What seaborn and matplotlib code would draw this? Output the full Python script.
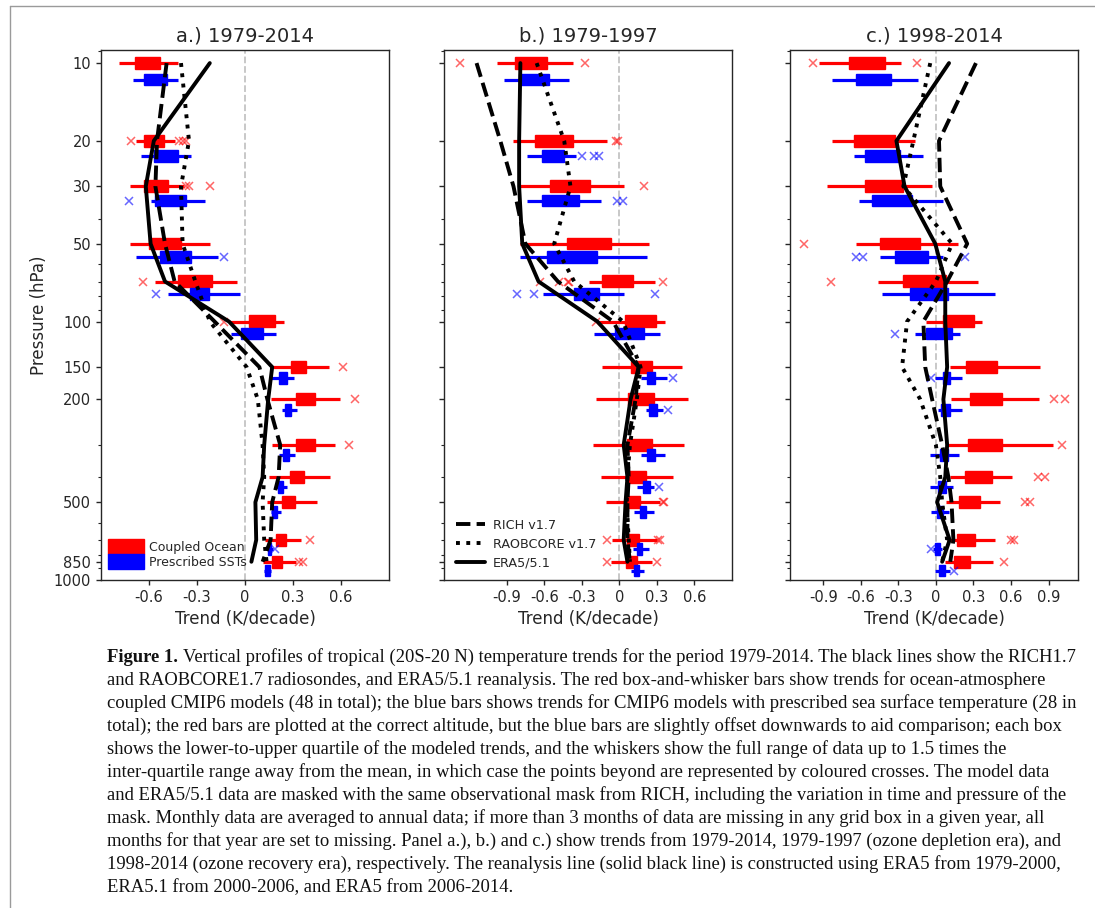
import matplotlib
matplotlib.use("Agg")
import matplotlib.pyplot as plt
import matplotlib.ticker as mticker
from matplotlib.patches import Patch
from matplotlib.lines import Line2D
import numpy as np
import seaborn as sns

# ---------------------------------------------------------------- data
LEVELS = [10, 20, 30, 50, 70, 100, 150, 200, 300, 400, 500, 700, 850]
YTICKS = [10, 20, 30, 50, 100, 150, 200, 500, 850, 1000]
YTICKLABELS = ["10", "20", "30", "50", "100", "150", "200", "500", "850", "1000"]

TITLES = ["a.) 1979-2014", "b.) 1979-1997", "c.) 1998-2014"]
XTICKS = [[-0.6, -0.3, 0, 0.3, 0.6],
          [-0.9, -0.6, -0.3, 0, 0.3, 0.6],
          [-0.9, -0.6, -0.3, 0, 0.3, 0.6, 0.9]]
XTICKLABELS = [["-0.6", "-0.3", "0", "0.3", "0.6"],
               ["-0.9", "-0.6", "-0.3", "0", "0.3", "0.6"],
               ["-0.9", "-0.6", "-0.3", "0", "0.3", "0.6", "0.9"]]
XLIMS = [(-0.9, 0.9), (-1.4, 0.9), (-1.165, 1.135)]

SERIES_NAMES = ["RICH v1.7", "RAOBCORE v1.7", "ERA5/5.1"]
BOX_NAMES = ["Coupled Ocean", "Prescribed SSTs"]

# observational profiles (K/decade) at LEVELS
A_RICH = [-0.49, -0.55, -0.56, -0.50, -0.44, -0.19, 0.09, 0.14, 0.22, 0.21, 0.17, 0.16, 0.11]
A_RAOB = [-0.40, -0.35, -0.40, -0.39, -0.31, -0.22, 0.01, 0.08, 0.11, 0.12, 0.11, 0.12, 0.135]
A_ERA5 = [-0.22, -0.57, -0.62, -0.59, -0.50, -0.10, 0.17, 0.145, 0.12, 0.11, 0.065, 0.07, 0.04]

B_RICH = [-1.14, -0.95, -0.845, -0.75, -0.49, -0.05, 0.155, 0.13, 0.065, 0.075, 0.065, 0.065, 0.085]
B_RAOB = [-0.66, -0.44, -0.39, -0.52, -0.36, 0.03, 0.17, 0.14, 0.085, 0.065, 0.06, 0.075, 0.085]
B_ERA5 = [-0.79, -0.80, -0.80, -0.775, -0.645, -0.175, 0.155, 0.09, 0.035, 0.065, 0.05, 0.035, 0.065]

C_RICH = [0.32, 0.025, 0.035, 0.25, 0.09, -0.10, -0.085, -0.03, 0.05, 0.10, 0.125, 0.14, 0.115]
C_RAOB = [-0.045, -0.18, -0.26, 0.13, 0.0, -0.23, -0.27, -0.125, 0.0, 0.035, 0.05, 0.09, 0.05]
C_ERA5 = [0.105, -0.315, -0.25, -0.005, 0.075, 0.075, 0.09, 0.06, 0.09, 0.075, 0.01, 0.11, 0.05]

# model boxes: (whisker low, lower quartile, upper quartile, whisker high) at LEVELS
A_COUPLED = [(-0.79, -0.69, -0.53, -0.42), (-0.68, -0.63, -0.505, -0.44), (-0.72, -0.63, -0.48, -0.38),
             (-0.72, -0.60, -0.40, -0.22), (-0.56, -0.42, -0.205, -0.05), (-0.10, 0.025, 0.19, 0.245),
             (0.155, 0.285, 0.38, 0.525), (0.16, 0.32, 0.435, 0.595), (0.17, 0.32, 0.435, 0.56),
             (0.15, 0.28, 0.37, 0.53), (0.135, 0.23, 0.315, 0.45), (0.125, 0.195, 0.255, 0.35),
             (0.115, 0.17, 0.23, 0.32)]
A_COUPLED_X = [[], [-0.71, -0.41, -0.39, -0.37], [-0.37, -0.35, -0.22], [], [-0.64], [-0.13],
               [0.615], [0.69], [0.65], [], [], [0.405], [0.335, 0.36]]
A_SST = [(-0.70, -0.63, -0.485, -0.42), (-0.65, -0.57, -0.42, -0.34), (-0.59, -0.56, -0.37, -0.25),
         (-0.68, -0.53, -0.335, -0.17), (-0.48, -0.345, -0.225, -0.03), (-0.09, -0.025, 0.115, 0.195),
         (0.165, 0.215, 0.265, 0.305), (0.23, 0.25, 0.285, 0.325), (0.215, 0.235, 0.275, 0.315),
         (0.19, 0.205, 0.235, 0.265), (0.16, 0.17, 0.20, 0.225), (0.135, 0.145, 0.165, 0.175),
         (0.12, 0.127, 0.155, 0.165)]
A_SST_X = [[], [], [-0.725], [-0.13], [-0.555], [], [], [], [], [], [], [0.19], []]

B_COUPLED = [(-0.98, -0.83, -0.58, -0.37), (-0.85, -0.675, -0.37, -0.10), (-0.81, -0.555, -0.235, 0.04),
             (-0.79, -0.415, -0.065, 0.24), (-0.24, -0.135, 0.11, 0.285), (-0.17, 0.045, 0.29, 0.365),
             (-0.14, 0.095, 0.26, 0.50), (-0.185, 0.07, 0.275, 0.55), (-0.21, 0.06, 0.26, 0.52),
             (-0.145, 0.07, 0.215, 0.43), (-0.11, 0.055, 0.165, 0.325), (-0.055, 0.065, 0.16, 0.30),
             (-0.07, 0.055, 0.14, 0.26)]
B_COUPLED_X = [[-1.27, -0.27], [-0.03, -0.01], [0.195], [], [-0.63, -0.48, -0.41, -0.40, 0.35], [-0.19],
               [], [], [], [], [0.345, 0.36], [-0.095, 0.31, 0.325], [-0.10, 0.30]]
B_SST = [(-0.92, -0.805, -0.565, -0.40), (-0.74, -0.62, -0.44, -0.345), (-0.74, -0.615, -0.32, -0.15),
         (-0.79, -0.575, -0.175, 0.22), (-0.61, -0.365, -0.16, 0.04), (-0.20, -0.035, 0.20, 0.325),
         (0.175, 0.22, 0.285, 0.38), (0.215, 0.235, 0.30, 0.35), (0.175, 0.22, 0.285, 0.365),
         (0.145, 0.19, 0.245, 0.28), (0.12, 0.165, 0.21, 0.28), (0.11, 0.14, 0.185, 0.235),
         (0.09, 0.115, 0.155, 0.195)]
B_SST_X = [[], [-0.30, -0.20, -0.165], [-0.02, 0.03], [], [-0.82, -0.68, 0.285], [], [0.425], [0.385],
           [], [0.315], [], [], []]

C_COUPLED = [(-0.93, -0.69, -0.41, -0.28), (-0.83, -0.65, -0.33, -0.17), (-0.87, -0.57, -0.265, -0.03),
             (-0.64, -0.45, -0.125, 0.18), (-0.46, -0.265, 0.08, 0.34), (-0.08, 0.06, 0.305, 0.37),
             (0.11, 0.24, 0.485, 0.835), (0.12, 0.275, 0.525, 0.825), (0.10, 0.26, 0.525, 0.935),
             (0.11, 0.235, 0.445, 0.605), (0.08, 0.185, 0.355, 0.51), (0.09, 0.17, 0.315, 0.47),
             (0.07, 0.145, 0.275, 0.46)]
C_COUPLED_X = [[-0.98, -0.15], [], [], [-1.05], [-0.84], [], [], [0.94, 1.03], [1.01],
               [0.815, 0.875], [0.71, 0.75], [0.60, 0.62], [0.545]]
C_SST = [(-0.83, -0.635, -0.36, -0.14), (-0.655, -0.57, -0.29, -0.10), (-0.61, -0.51, -0.19, 0.06),
         (-0.45, -0.325, -0.065, 0.055), (-0.43, -0.205, 0.095, 0.47), (-0.17, -0.075, 0.125, 0.19),
         (-0.005, 0.06, 0.115, 0.21), (0.02, 0.04, 0.11, 0.205), (-0.05, 0.035, 0.10, 0.185),
         (-0.05, 0.015, 0.08, 0.14), (-0.035, 0.005, 0.06, 0.105), (-0.02, -0.005, 0.035, 0.05),
         (-0.005, 0.025, 0.07, 0.11)]
C_SST_X = [[], [], [], [-0.635, -0.58, 0.235], [], [-0.33], [-0.04], [], [], [], [], [-0.035], [0.145]]

CAPTION_BOLD = "Figure 1."
CAPTION_LINES = [
    "Vertical profiles of tropical (20S-20 N) temperature trends for the period 1979-2014. The black lines show the RICH1.7",
    "and RAOBCORE1.7 radiosondes, and ERA5/5.1 reanalysis. The red box-and-whisker bars show trends for ocean-atmosphere",
    "coupled CMIP6 models (48 in total); the blue bars shows trends for CMIP6 models with prescribed sea surface temperature (28 in",
    "total); the red bars are plotted at the correct altitude, but the blue bars are slightly offset downwards to aid comparison; each box",
    "shows the lower-to-upper quartile of the modeled trends, and the whiskers show the full range of data up to 1.5 times the",
    "inter-quartile range away from the mean, in which case the points beyond are represented by coloured crosses. The model data",
    "and ERA5/5.1 data are masked with the same observational mask from RICH, including the variation in time and pressure of the",
    "mask. Monthly data are averaged to annual data; if more than 3 months of data are missing in any grid box in a given year, all",
    "months for that year are set to missing. Panel a.), b.) and c.) show trends from 1979-2014, 1979-1997 (ozone depletion era), and",
    "1998-2014 (ozone recovery era), respectively. The reanalysis line (solid black line) is constructed using ERA5 from 1979-2000,",
    "ERA5.1 from 2000-2006, and ERA5 from 2006-2014.",
]

PANELS = [
    (A_RICH, A_RAOB, A_ERA5, A_COUPLED, A_COUPLED_X, A_SST, A_SST_X),
    (B_RICH, B_RAOB, B_ERA5, B_COUPLED, B_COUPLED_X, B_SST, B_SST_X),
    (C_RICH, C_RAOB, C_ERA5, C_COUPLED, C_COUPLED_X, C_SST, C_SST_X),
]

# ---------------------------------------------------------------- style
sns.set_style("ticks")
plt.rcParams["font.family"] = ["DejaVu Sans"]
plt.rcParams["axes.unicode_minus"] = False
plt.rcParams["axes.edgecolor"] = "0.15"
plt.rcParams["xtick.color"] = "0.15"
plt.rcParams["ytick.color"] = "0.15"

W, H = 1095, 908
fig = plt.figure(figsize=(W / 100, H / 100), dpi=100)
fig.patch.set_facecolor("white")

AX_LEFTS = [101, 444, 790]
AX_TOP, AX_W, AX_H = 50, 288, 530
LINE_STYLES = ["--", ":", "-"]


def draw_boxes(ax, boxes, fliers, positions, color):
    stats = []
    for (lo, q1, q3, hi), fl in zip(boxes, fliers):
        stats.append(dict(whislo=lo, q1=q1, med=0.5 * (q1 + q3), q3=q3, whishi=hi, fliers=fl))
    widths = [0.105 * p for p in positions]
    ax.bxp(stats, positions=positions, widths=widths, orientation="horizontal",
           patch_artist=True, showcaps=False, manage_ticks=False,
           boxprops=dict(facecolor=color, edgecolor=color, linewidth=1),
           whiskerprops=dict(color=color, linewidth=2.3, solid_capstyle="butt"),
           medianprops=dict(color=color, linewidth=0),
           flierprops=dict(marker="x", markeredgecolor=color, markerfacecolor=color,
                           markersize=5.5, markeredgewidth=1.1, alpha=0.6, linestyle="none"),
           zorder=2)


axes = []
for i, (rich, raob, era5, cbox, cfl, sbox, sfl) in enumerate(PANELS):
    ax = fig.add_axes([AX_LEFTS[i] / W, 1 - (AX_TOP + AX_H) / H, AX_W / W, AX_H / H])
    axes.append(ax)
    ax.set_yscale("log")
    ax.axvline(0, color="#c4c4c4", linestyle="--", linewidth=1.3, zorder=1)

    blue_pos = [p * (1 + 0.16 * (p / 10.0) ** -0.15) for p in LEVELS]
    draw_boxes(ax, cbox, cfl, LEVELS, "red")
    draw_boxes(ax, sbox, sfl, blue_pos, "blue")

    for vals, ls, name in zip([rich, raob, era5], LINE_STYLES, SERIES_NAMES):
        sns.lineplot(x=vals, y=LEVELS, orient="y", sort=True, estimator=None,
                     color="black", linewidth=2.8, linestyle=ls, label=name,
                     legend=False, ax=ax, zorder=4)

    ax.set_xlim(*XLIMS[i])
    ax.set_ylim(1000, 8.9)
    ax.set_xticks(XTICKS[i], XTICKLABELS[i])
    ax.set_yticks(YTICKS, YTICKLABELS)
    ax.yaxis.set_minor_locator(mticker.LogLocator(base=10, subs=np.arange(2, 10)))
    ax.yaxis.set_minor_formatter(mticker.NullFormatter())
    ax.tick_params(axis="both", which="major", labelsize=10.5, length=3.5, width=1, direction="out")
    ax.tick_params(axis="y", which="minor", length=2, width=0.8, direction="out")
    ax.set_title(TITLES[i], fontsize=14)
    ax.set_xlabel("Trend (K/decade)", fontsize=12)
    if i == 0:
        ax.set_ylabel("Pressure (hPa)", fontsize=12)
    else:
        ax.set_ylabel("")
        ax.tick_params(axis="y", which="both", labelleft=False)
    for sp in ax.spines.values():
        sp.set_visible(True)
        sp.set_linewidth(1.0)

# legends
patch_handles = [Patch(facecolor="red", edgecolor="red"), Patch(facecolor="blue", edgecolor="blue")]
axes[0].legend(patch_handles, BOX_NAMES, loc="lower left", bbox_to_anchor=(0.024, 0.021),
               frameon=False, fontsize=9, handlelength=2.85, handleheight=1.45, labelspacing=0,
               handletextpad=0.4, borderpad=0, borderaxespad=0)

line_handles = [Line2D([], [], color="black", linewidth=2.8, linestyle=ls) for ls in LINE_STYLES]
axes[1].legend(line_handles, SERIES_NAMES, loc="lower left", bbox_to_anchor=(0.04, 0.02),
               frameon=False, fontsize=9.2, handlelength=2.3, labelspacing=0.45,
               handletextpad=0.6, borderpad=0, borderaxespad=0)

# page border
fig.add_artist(Line2D([10 / W, 10 / W], [0, 1 - 6 / H], color="#9a9a9a", linewidth=1, transform=fig.transFigure))
fig.add_artist(Line2D([10 / W, 1], [1 - 6 / H, 1 - 6 / H], color="#9a9a9a", linewidth=1, transform=fig.transFigure))

# caption
serif = ["Liberation Serif", "DejaVu Serif"]
cap_left = 107 / W
line_y = [662 + 23 * k for k in range(len(CAPTION_LINES))]
base_fs = 12.0
bold = fig.text(cap_left, 1 - line_y[0] / H, CAPTION_BOLD, fontsize=base_fs, fontweight="bold",
                family=serif, va="baseline", color="#111111")
rest = [fig.text(cap_left, 1 - y / H, s, fontsize=base_fs, family=serif, va="baseline", color="#111111")
        for s, y in zip(CAPTION_LINES, line_y)]
renderer = fig.canvas.get_renderer()


def place_first_line():
    bw = bold.get_window_extent(renderer).width
    sp = bold.get_fontsize() * 100 / 72 * 0.25
    rest[0].set_x(cap_left + (bw + sp) / W)
    return bw + sp + rest[0].get_window_extent(renderer).width


total = place_first_line()
fs = base_fs * 966 / total
for t in [bold] + rest:
    t.set_fontsize(fs)
place_first_line()

fig.savefig("out.png", dpi=100, facecolor="white")
